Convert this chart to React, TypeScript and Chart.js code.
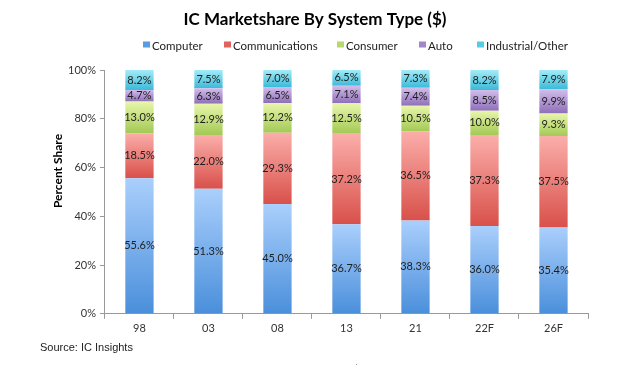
import React, { useEffect, useRef } from "react";
import { Chart, registerables } from "chart.js";

Chart.register(...registerables);

const categories = ["98", "03", "08", "13", "21", "22F", "26F"];
const computer = [55.6, 51.3, 45.0, 36.7, 38.3, 36.0, 35.4];
const communications = [18.5, 22.0, 29.3, 37.2, 36.5, 37.3, 37.5];
const consumer = [13.0, 12.9, 12.2, 12.5, 10.5, 10.0, 9.3];
const auto = [4.7, 6.3, 6.5, 7.1, 7.4, 8.5, 9.9];
const industrial = [8.2, 7.5, 7.0, 6.5, 7.3, 8.2, 7.9];
const yTicks = [0, 20, 40, 60, 80, 100];

const seriesNames = ["Computer", "Communications", "Consumer", "Auto", "Industrial/Other"];
const seriesValues = [computer, communications, consumer, auto, industrial];
const topColors = ["#aacffc", "#fbaeaa", "#e8f6ab", "#d2bdeb", "#a3ecf8"];
const bottomColors = ["#4a8fdb", "#d9504a", "#a3c955", "#8f6fb8", "#3bbad8"];
const legendColors = ["#5b9be0", "#e0645e", "#b7d86c", "#a286c8", "#56cbe5"];
const legendX = [143, 224, 337, 419, 477];

const FONT = "Lato, 'Open Sans', sans-serif";
const TITLE = "IC Marketshare By System Type ($)";
const Y_TITLE = "Percent Share";

const labelPlugin = {
  id: "segLabels",
  afterDatasetsDraw(chart: any) {
    const ctx = chart.ctx;
    ctx.save();
    ctx.font = `11px ${FONT}`;
    ctx.fillStyle = "#1e1e1e";
    ctx.textAlign = "center";
    ctx.textBaseline = "middle";
    chart.data.datasets.forEach((ds: any, di: number) => {
      const meta = chart.getDatasetMeta(di);
      meta.data.forEach((el: any, i: number) => {
        const v = ds.data[i];
        const y = (el.y + el.base) / 2;
        ctx.fillText(v.toFixed(1) + "%", el.x, y);
      });
    });
    ctx.restore();
  },
};

const headerPlugin = {
  id: "header",
  afterDraw(chart: any) {
    const ctx = chart.ctx;
    ctx.save();
    // title
    ctx.font = `bold 17px ${FONT}`;
    ctx.fillStyle = "#000";
    ctx.textAlign = "center";
    ctx.textBaseline = "middle";
    ctx.fillText(TITLE, 315, 20);
    // legend
    ctx.font = `11.5px ${FONT}`;
    ctx.textAlign = "left";
    seriesNames.forEach((n, i) => {
      const x = legendX[i];
      ctx.fillStyle = legendColors[i];
      ctx.fillRect(x, 41.5, 7, 6);
      ctx.fillStyle = "#222";
      ctx.fillText(n, x + 9, 46);
    });
    // y axis title
    ctx.translate(58, 171);
    ctx.rotate(-Math.PI / 2);
    ctx.font = `bold 12px ${FONT}`;
    ctx.fillStyle = "#000";
    ctx.textAlign = "center";
    ctx.fillText(Y_TITLE, 0, 0);
    ctx.restore();
  },
};

export default function App() {
  const ref = useRef<HTMLCanvasElement>(null);
  useEffect(() => {
    const canvas = ref.current!;
    const makeBg = (si: number) => (c: any) => {
      const chart = c.chart;
      const ys = chart.scales && chart.scales.y;
      if (!ys || c.dataIndex === undefined) return legendColors[si];
      let base = 0;
      for (let k = 0; k < si; k++) base += seriesValues[k][c.dataIndex];
      const top = base + seriesValues[si][c.dataIndex];
      const y0 = ys.getPixelForValue(top);
      const y1 = ys.getPixelForValue(base);
      if (!isFinite(y0) || !isFinite(y1) || y0 === y1) return legendColors[si];
      const g = chart.ctx.createLinearGradient(0, y0, 0, y1);
      g.addColorStop(0, topColors[si]);
      g.addColorStop(1, bottomColors[si]);
      return g;
    };
    const chart = new Chart(canvas, {
      type: "bar",
      data: {
        labels: categories,
        datasets: seriesNames.map((name, si) => ({
          label: name,
          data: seriesValues[si],
          backgroundColor: makeBg(si),
          borderWidth: 0,
          barPercentage: 0.41,
          categoryPercentage: 1,
        })),
      },
      options: {
        animation: false,
        responsive: false,
        maintainAspectRatio: false,
        layout: { padding: { top: 70, left: 64, right: 42, bottom: 42 } },
        plugins: {
          tooltip: { enabled: false },
          title: { display: false },
          legend: { display: false },
        },
        scales: {
          x: {
            stacked: true,
            offset: true,
            grid: { display: true, drawOnChartArea: false, offset: true, tickLength: 5, color: "#999" },
            border: { color: "#999" },
            ticks: { color: "#333", font: { family: FONT, size: 11 }, padding: 3 },
          },
          y: {
            stacked: true,
            min: 0,
            max: 100,
            afterBuildTicks: (s: any) => {
              s.ticks = yTicks.map((v) => ({ value: v }));
            },
            grid: { display: true, drawOnChartArea: false, tickLength: 5, color: "#999" },
            border: { color: "#999" },
            ticks: {
              color: "#333",
              font: { family: FONT, size: 11 },
              padding: 4,
              callback: (v: any) => v + "%",
            },
          },
        },
      },
      plugins: [labelPlugin, headerPlugin],
    } as any);
    return () => chart.destroy();
  }, []);
  return (
    <div style={{ position: "fixed", left: 0, top: 0, width: 630, height: 380, background: "#fff" }}>
      <canvas ref={ref} width={630} height={380} style={{ width: 630, height: 380, display: "block" }} />
      <div
        style={{
          position: "absolute",
          left: 40,
          top: 341,
          fontFamily: "'Liberation Sans', Arial, sans-serif",
          fontSize: 11,
          color: "#222",
        }}
      >
        Source: IC Insights
      </div>
      <div style={{ position: "absolute", left: 356, top: 364, width: 1, height: 1, background: "#999" }} />
    </div>
  );
}
